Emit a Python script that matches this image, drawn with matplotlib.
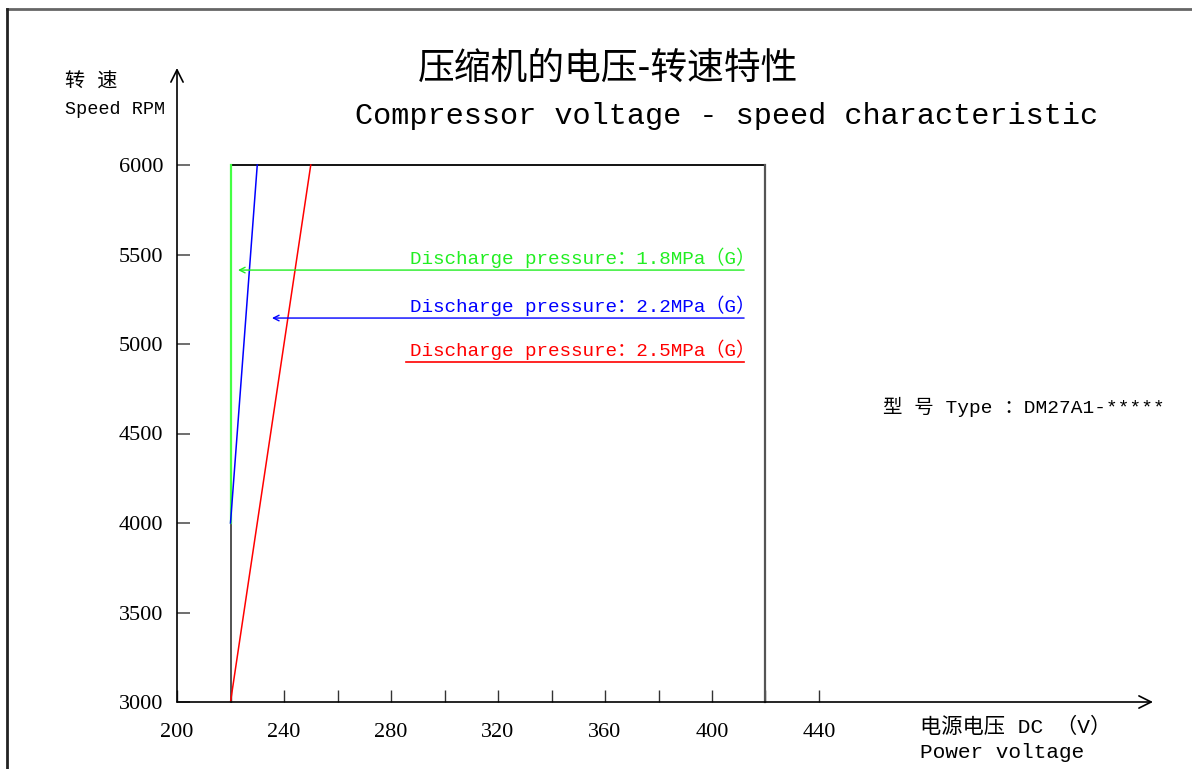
import matplotlib
matplotlib.use("Agg")
import matplotlib.pyplot as plt
from matplotlib.lines import Line2D

# speed / voltage curves
volt_18 = [220, 220]
rpm_18 = [4000, 6000]
volt_22 = [220, 230]
rpm_22 = [4000, 6000]
volt_25 = [220, 250]
rpm_25 = [3000, 6000]

# outline of the operating window
frame_volt = [220, 220, 420, 420]
frame_rpm = [4000, 6000, 6000, 3000]
base_volt = [220, 220]
base_rpm = [3000, 4000]

xticks_major = [200, 240, 280, 320, 360, 400, 440]
xticks_minor = [220, 260, 300, 340, 380, 420]
yticks = [3000, 3500, 4000, 4500, 5000, 5500, 6000]

labels = ["Discharge pressure：1.8MPa（G）",
          "Discharge pressure：2.2MPa（G）",
          "Discharge pressure：2.5MPa（G）"]
label_rpm = [5413, 5145, 4899]
arrow_tip = [222.8, 235.5, None]
colors = ["#22ee22", "#0000ff", "#ff0000"]

MONO = ["Liberation Mono", "Noto Sans CJK SC"]
SERIF = ["Liberation Serif", "Noto Sans CJK SC"]
CJK = ["Noto Sans CJK SC", "Liberation Mono"]

W, H = 1192, 769
fig = plt.figure(figsize=(W / 100, H / 100), dpi=100)
fig.set_facecolor("white")

x0, x1 = 177, 1153
y0, y1 = 702, 68
ax = fig.add_axes([x0 / W, 1 - y0 / H, (x1 - x0) / W, (y0 - y1) / H])
ax.set_xlim(200, 200 + (x1 - x0) / 2.675)
ax.set_ylim(3000, 3000 + (y0 - y1) / 0.179)
for s in ax.spines.values():
    s.set_visible(False)
ax.patch.set_visible(False)

# axes arrows
ax.annotate("", xy=(1.0, 0), xytext=(0, 0), xycoords="axes fraction",
            arrowprops=dict(arrowstyle="->", color="black", lw=1.2,
                            mutation_scale=22, shrinkA=0, shrinkB=0))
ax.annotate("", xy=(0, 1.0), xytext=(0, 0), xycoords="axes fraction",
            arrowprops=dict(arrowstyle="->", color="black", lw=1.2,
                            mutation_scale=22, shrinkA=0, shrinkB=0))

ax.set_xticks(xticks_major)
ax.set_xticks(xticks_minor, minor=True)
ax.set_yticks(yticks)
ax.tick_params(axis="x", which="both", direction="in", length=9, width=1,
               color="#333333", pad=15, labelsize=16)
ax.tick_params(axis="y", direction="in", length=9.5, width=1.2,
               color="#555555", pad=10, labelsize=16)
for t in ax.get_xticklabels() + ax.get_yticklabels():
    t.set_family(SERIF)

# curves
ax.plot(base_volt, base_rpm, color="#444444", lw=1.3, clip_on=False)
ax.plot(frame_volt, frame_rpm, color="black", lw=1.3, clip_on=False)
ax.plot(frame_volt[2:], frame_rpm[2:], color="#555555", lw=1.6, clip_on=False)
ax.plot(volt_18, rpm_18, color="#44ff44", lw=1.6)
ax.plot(volt_22, rpm_22, color=colors[1], lw=1.1)
ax.plot(volt_25, rpm_25, color=colors[2], lw=1.1)

# legend-like labels with leader arrows
for lab, r, tip, c in zip(labels, label_rpm, arrow_tip, colors):
    ax.text(416, r + 12, lab, color=c, ha="right", va="bottom",
            fontsize=13.9, family=MONO)
    if tip is not None:
        ax.annotate("", xy=(tip, r), xytext=(412, r),
                    arrowprops=dict(arrowstyle="->", color=c, lw=1.0,
                                    mutation_scale=10, shrinkA=0, shrinkB=0))
    else:
        ax.plot([285.6, 412], [r, r], color=c, lw=1.2)

# titles and annotations
fig.text(418 / W, 1 - 68 / H, "压缩机的电压-转速特性", fontsize=26.5,
         family=CJK, va="center", ha="left")
fig.text(355 / W, 1 - 116 / H, "Compressor voltage - speed characteristic",
         fontsize=21.8, family=MONO, va="center", ha="left")
fig.text(65 / W, 1 - 82 / H, "转 速", fontsize=14.5, family=MONO,
         va="center", ha="left")
fig.text(65 / W, 1 - 109 / H, "Speed RPM", fontsize=13.3, family=MONO,
         va="center", ha="left")
fig.text(883 / W, 1 - 407 / H, "型 号 Type ：DM27A1-*****", fontsize=14,
         family=MONO, va="center", ha="left")
fig.text(920 / W, 1 - 727 / H, "电源电压 DC （V）", fontsize=15.3,
         family=MONO, va="center", ha="left")
fig.text(920 / W, 1 - 752 / H, "Power voltage", fontsize=15.2,
         family=MONO, va="center", ha="left")

# page border
fig.add_artist(Line2D([7 / W, 1.0], [1 - 9 / H, 1 - 9 / H], color="#666666", lw=2))
fig.add_artist(Line2D([7 / W, 7 / W], [0, 1 - 9 / H], color="#222222", lw=2))

fig.savefig("out.png", dpi=100)
